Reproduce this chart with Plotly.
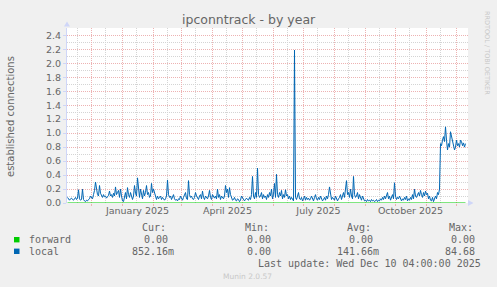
import plotly.graph_objects as go
import pandas as pd

# ---- data (daily values) ----
local_values = [
    0.08, 0.05, 0.04, 0.06, 0.07, 0.05, 0.04, 0.06, 0.08, 0.05, 0.07,
    0.19, 0.06, 0.04, 0.05, 0.20, 0.05, 0.03, 0.02, 0.04, 0.03,
    0.05, 0.06, 0.10, 0.08, 0.06, 0.12, 0.18, 0.30, 0.20, 0.12,
    0.10, 0.25, 0.14, 0.10, 0.08, 0.12, 0.09, 0.10, 0.07, 0.09,
    0.11, 0.17, 0.10, 0.12, 0.08, 0.14, 0.10, 0.23, 0.12, 0.15,
    0.18, 0.08, 0.20, 0.10, 0.03, 0.02, 0.08, 0.15, 0.06, 0.22,
    0.12, 0.08, 0.15, 0.10, 0.05, 0.10, 0.25, 0.14, 0.10, 0.36,
    0.15, 0.08, 0.20, 0.12, 0.06, 0.18, 0.10, 0.15, 0.25, 0.12,
    0.15, 0.08, 0.10, 0.28, 0.15, 0.20, 0.14, 0.08, 0.05, 0.10,
    0.06, 0.08, 0.10, 0.05, 0.08, 0.06, 0.04, 0.06, 0.10, 0.33,
    0.12, 0.08, 0.10, 0.05, 0.08, 0.12, 0.06, 0.04, 0.05, 0.03,
    0.06, 0.05, 0.10, 0.07, 0.04, 0.08, 0.12, 0.15, 0.06, 0.05,
    0.32, 0.12, 0.08, 0.10, 0.06, 0.05, 0.08, 0.15, 0.10, 0.07,
    0.05, 0.10, 0.12, 0.06, 0.17, 0.08, 0.05, 0.10, 0.07, 0.06,
    0.10, 0.18, 0.08, 0.05, 0.12, 0.10, 0.07, 0.10, 0.06, 0.20,
    0.08, 0.12, 0.05, 0.10, 0.08, 0.06, 0.10, 0.25, 0.15, 0.20,
    0.08, 0.22, 0.12, 0.06, 0.04, 0.05, 0.08, 0.04, 0.03, 0.06,
    0.05, 0.02, 0.04, 0.10, 0.08, 0.06, 0.03, 0.05, 0.07, 0.05,
    0.04, 0.08, 0.05, 0.12, 0.38, 0.10, 0.06, 0.15, 0.08, 0.50,
    0.12, 0.08, 0.10, 0.15, 0.06, 0.12, 0.08, 0.10, 0.05, 0.12,
    0.08, 0.15, 0.10, 0.20, 0.06, 0.12, 0.28, 0.08, 0.41, 0.12,
    0.08, 0.15, 0.10, 0.18, 0.06, 0.12, 0.08, 0.19, 0.10, 0.12,
    0.06, 0.10, 0.05, 0.08, 0.06, 0.03, 2.19, 0.08, 0.05, 0.10,
    0.15, 0.06, 0.05, 0.08, 0.03, 0.06, 0.10, 0.04, 0.08, 0.05,
    0.07, 0.04, 0.06, 0.10, 0.05, 0.03, 0.08, 0.12, 0.06, 0.04,
    0.08, 0.05, 0.10, 0.06, 0.03, 0.05, 0.08, 0.04, 0.10, 0.06,
    0.12, 0.23, 0.10, 0.05, 0.08, 0.06, 0.04, 0.10, 0.05, 0.03,
    0.06, 0.08, 0.12, 0.05, 0.10, 0.15, 0.08, 0.20, 0.32, 0.12,
    0.15, 0.08, 0.20, 0.10, 0.06, 0.38, 0.12, 0.08, 0.10, 0.15,
    0.06, 0.12, 0.08, 0.04, 0.10, 0.05, 0.03, 0.04, 0.02, 0.05,
    0.03, 0.04, 0.02, 0.05, 0.03, 0.04, 0.02, 0.03, 0.05, 0.02,
    0.04, 0.03, 0.06, 0.04, 0.08, 0.05, 0.10, 0.06, 0.12, 0.15,
    0.06, 0.10, 0.04, 0.08, 0.12, 0.06, 0.29, 0.10, 0.05, 0.08,
    0.06, 0.10, 0.05, 0.03, 0.06, 0.04, 0.08, 0.05, 0.10, 0.03,
    0.06, 0.04, 0.08, 0.05, 0.12, 0.06, 0.20, 0.10, 0.08, 0.12,
    0.15, 0.10, 0.18, 0.12, 0.08, 0.15, 0.10, 0.17, 0.12, 0.14,
    0.06, 0.10, 0.04, 0.03, 0.08, 0.02, 0.05, 0.10, 0.06, 0.15,
    0.12, 0.20, 0.85, 0.82, 0.90, 0.95, 0.88, 1.09, 0.90, 0.76,
    0.85, 0.80, 1.02, 0.95, 0.92, 0.85, 0.76, 0.80, 0.90, 0.82,
    0.85, 0.80, 0.90, 0.88, 0.82, 0.86, 0.80, 0.85,
]
forward_values = [0.0] * len(local_values)
dates = pd.date_range("2024-11-07", periods=len(local_values), freq="D")

month_starts = ["2024-12-01", "2025-01-01", "2025-02-01", "2025-03-01", "2025-04-01",
                "2025-05-01", "2025-06-01", "2025-07-01", "2025-08-01", "2025-09-01",
                "2025-10-01", "2025-11-01", "2025-12-01"]
minor_lines = ["2024-11-17", "2024-12-15", "2025-01-15", "2025-02-15", "2025-03-15",
               "2025-04-15", "2025-05-15", "2025-06-15", "2025-07-15", "2025-08-15",
               "2025-09-15", "2025-10-15", "2025-11-15"]
label_dates = ["2025-01-16", "2025-04-16", "2025-07-16", "2025-10-16"]
label_text = ["January 2025", "April 2025", "July 2025", "October 2025"]

legend_rows = [
    ("forward", "#00CC00", ["0.00", "0.00", "0.00", "0.00"]),
    ("local", "#0066B3", ["852.16m", "0.00", "141.66m", "84.68"]),
]
headers = ["Cur:", "Min:", "Avg:", "Max:"]

# ---- geometry ----
W, H = 497, 287
L, R, T, B = 67, 468, 28, 203


def fx(px):
    return (px - L) / (R - L)


def fy(py):
    return (B - py) / (B - T)


FONT = "DejaVu Sans"
MONO = "DejaVu Sans Mono"
TXT = "#666666"
RED = "#EDB2B2"
GRAY = "#D4D4D4"

fig = go.Figure()
# empty helper trace so that the gray minor-grid axis is drawn
fig.add_trace(go.Scatter(x=[], y=[], mode="lines", xaxis="x3", yaxis="y",
                         hoverinfo="skip"))
fig.add_trace(go.Scatter(x=dates, y=forward_values, mode="lines", name="forward",
                         line=dict(color="#00CC00", width=1), xaxis="x2", yaxis="y"))
fig.add_trace(go.Scatter(x=dates, y=local_values, mode="lines", name="local",
                         line=dict(color="#0066B3", width=1)))

xr = ["2024-11-06 12:00", "2025-12-12 12:00"]
fig.update_layout(
    width=W, height=H,
    margin=dict(l=L, r=W - R, t=T, b=H - B, pad=0),
    paper_bgcolor="#F0F0F0", plot_bgcolor="#FFFFFF",
    showlegend=False,
    font=dict(family=FONT, color=TXT, size=10),
    xaxis=dict(type="date", range=xr, tickmode="array", tickvals=label_dates,
               ticktext=label_text, showgrid=False, zeroline=False, showline=False,
               ticks="", tickfont=dict(size=9.5, color=TXT)),
    xaxis3=dict(type="date", range=xr, overlaying="x", anchor="y", side="bottom",
                tickmode="array", tickvals=minor_lines, showticklabels=False,
                showgrid=True, gridcolor=GRAY, griddash="1px,1px", gridwidth=1,
                ticks="", zeroline=False, showline=False),
    xaxis2=dict(type="date", range=xr, overlaying="x", anchor="y", side="bottom",
                tickmode="array", tickvals=month_starts, showticklabels=False,
                showgrid=True, gridcolor=RED, griddash="1px,1px", gridwidth=1,
                ticks="outside", ticklen=2, tickcolor=RED, zeroline=False,
                showline=False),
    yaxis=dict(range=[0, 2.505], dtick=0.2, tick0=0, tickformat=".1f",
               showgrid=True, gridcolor=RED, griddash="1px,1px", gridwidth=1,
               zeroline=False, showline=True, linecolor="#CFD6F8", linewidth=1,
               ticks="outside", ticklen=3, tickcolor="#CFD6F8",
               tickfont=dict(size=9.5, color=TXT),
               minor=dict(dtick=0.1, tick0=0, showgrid=True, gridcolor=GRAY,
                          griddash="1px,1px", gridwidth=1)),
)

ann = []


def add_text(text, px, py, size=10, family=FONT, color=TXT, xanchor="center", angle=0):
    ann.append(dict(text=text, x=fx(px), y=fy(py), xref="paper", yref="paper",
                    xanchor=xanchor, yanchor="middle", showarrow=False, textangle=angle,
                    font=dict(family=family, size=size, color=color)))


add_text("ipconntrack - by year", 248.5, 19, size=12.5)
add_text("established connections", 10, 117, size=10, angle=-90)
add_text("RRDTOOL / TOBI OETIKER", 487, 53, size=6.5, color="#C8C8C8", angle=90)

head_left = [140, 243, 345, 447]
for hx, h in zip(head_left, headers):
    add_text(h, hx, 227.7, family=MONO, xanchor="left")

row_y = [239.7, 251.3]
col_right_plain = [169.5, 272.7, 374.5, 476.7]
shapes = []
for (name, color, vals), ry in zip(legend_rows, row_y):
    add_text(name, 26.5, ry, family=MONO, xanchor="left")
    shapes.append(dict(type="rect", xref="paper", yref="paper", x0=fx(14), x1=fx(19.5),
                       y0=fy(ry - 2.7), y1=fy(ry + 2.7), fillcolor=color, line=dict(width=0)))
    for cx, v in zip(col_right_plain, vals):
        rx = cx + 6 if v.endswith("m") else cx
        add_text(v, rx, ry, family=MONO, xanchor="right")

add_text("Last update: Wed Dec 10 04:00:00 2025", 482.5, 263.3, family=MONO, xanchor="right")
add_text("Munin 2.0.57", 247.5, 276, size=7.5, color="#C8C8C8")


def tri(pts):
    return "M " + " L ".join(f"{fx(a)} {fy(b)}" for a, b in pts) + " Z"


shapes.append(dict(type="path", xref="paper", yref="paper",
                   path=tri([(64, 26.5), (70, 26.5), (67, 21.5)]),
                   fillcolor="#CFD6F8", line=dict(width=0)))
shapes.append(dict(type="path", xref="paper", yref="paper",
                   path=tri([(468, 200), (468, 206), (473.5, 203)]),
                   fillcolor="#CFD6F8", line=dict(width=0)))

fig.update_layout(annotations=ann, shapes=shapes)
fig.write_html("out.html")
